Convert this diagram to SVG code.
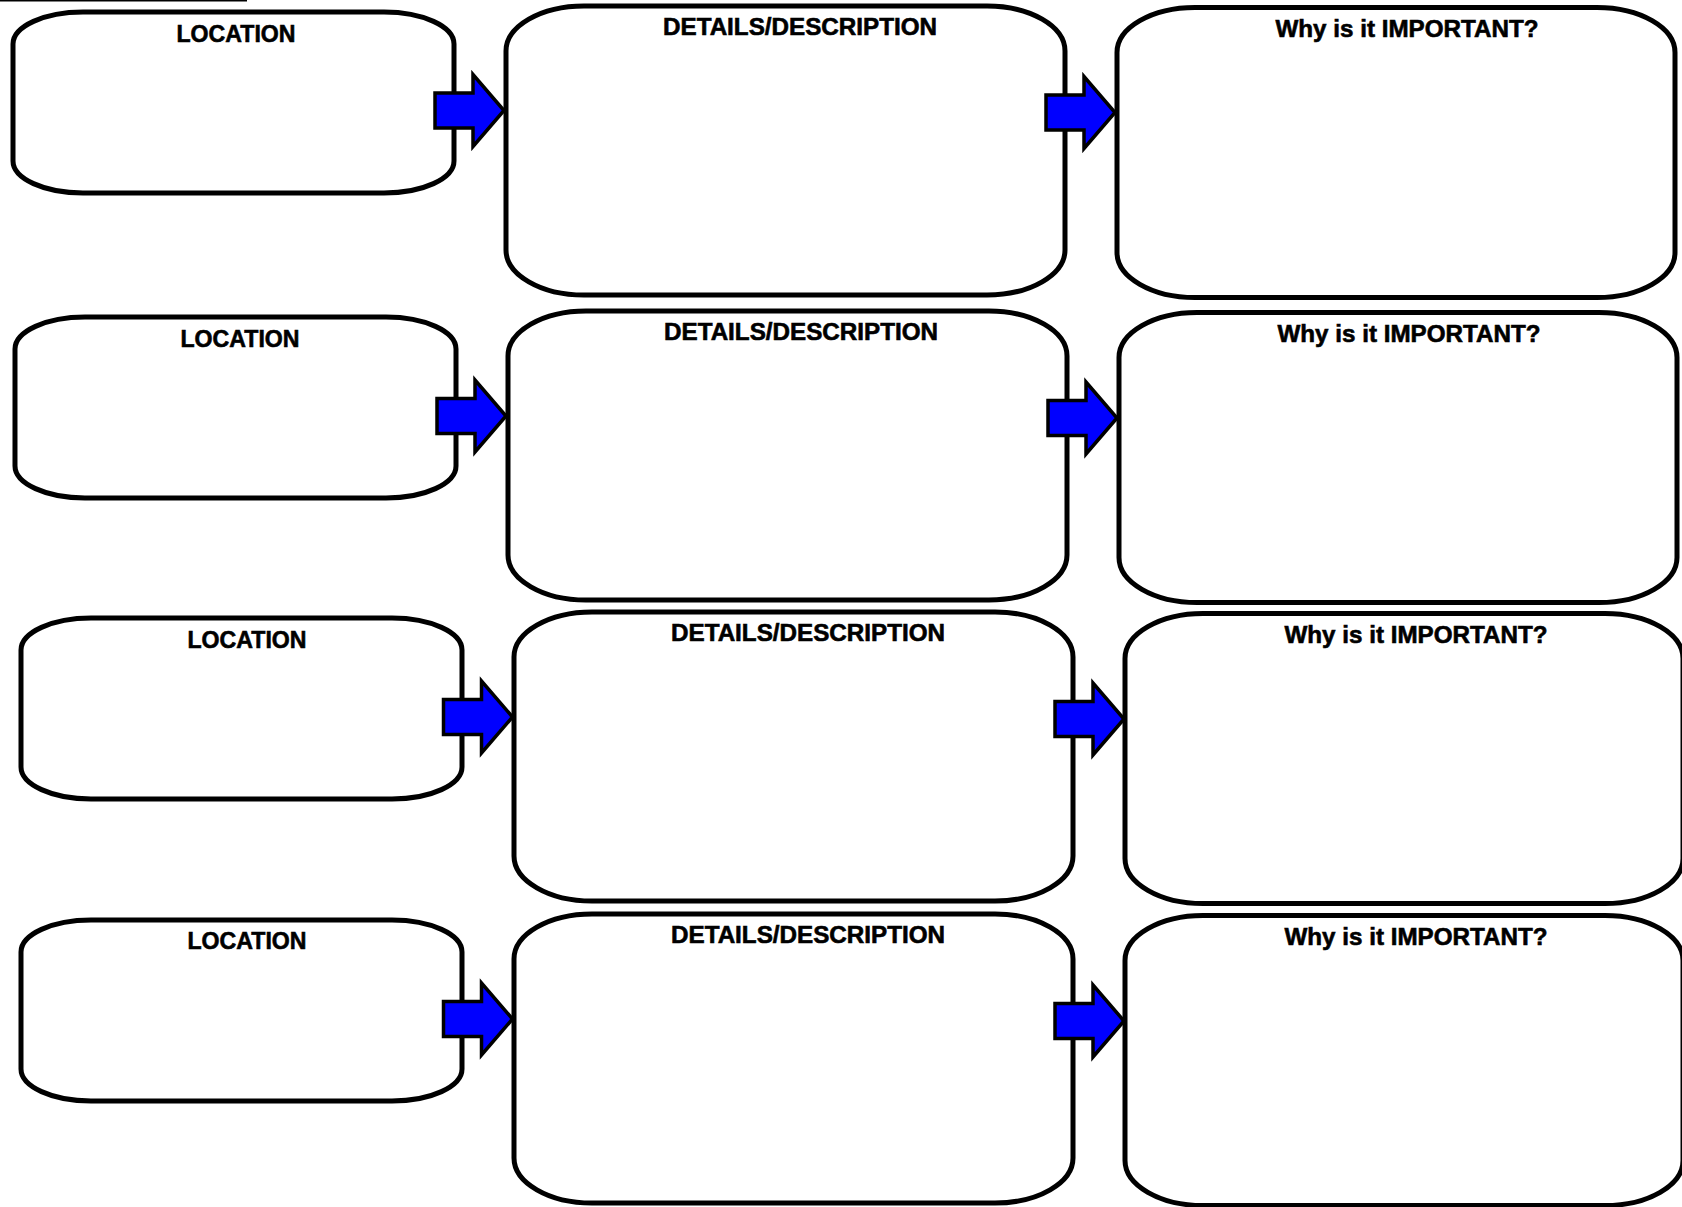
<svg xmlns="http://www.w3.org/2000/svg" xmlns:xlink="http://www.w3.org/1999/xlink" width="1682" height="1207" viewBox="0 0 1682 1207">
<style>
.box{fill:#fff;stroke:#000;stroke-width:5}
.lbl{font-family:"Liberation Sans",Arial,sans-serif;font-weight:bold;font-size:24px;fill:#000;stroke:#000;stroke-width:0.6;text-anchor:middle}
.arr{fill:#0000ff;stroke:#000;stroke-width:3.5;stroke-linejoin:miter}
</style>
<defs>
<path id="arrow" class="arr" d="M0,-17.5 H38 V-36 L69,0 L38,36 V17.5 H0 Z"/>
</defs>
<rect width="1682" height="1207" fill="#fff"/>
<line x1="0" y1="0.8" x2="247" y2="0.8" stroke="#000" stroke-width="1.6"/>

<g id="row1">
<g id="loc1"><rect class="box" x="13" y="12" width="441" height="181" rx="70" ry="32"/><text class="lbl" x="236" y="42" textLength="119" lengthAdjust="spacingAndGlyphs">LOCATION</text></g>
<g id="det1"><rect class="box" x="506" y="6" width="559" height="289" rx="78" ry="45"/><text class="lbl" x="800" y="35" textLength="274" lengthAdjust="spacingAndGlyphs">DETAILS/DESCRIPTION</text></g>
<g id="why1"><rect class="box" x="1117" y="7.5" width="558" height="290" rx="78" ry="45"/><text class="lbl" x="1407" y="37" textLength="263" lengthAdjust="spacingAndGlyphs">Why is it IMPORTANT?</text></g>
</g>

<g id="row2">
<g id="loc2"><rect class="box" x="15" y="317" width="441" height="181" rx="70" ry="32"/><text class="lbl" x="240" y="347" textLength="119" lengthAdjust="spacingAndGlyphs">LOCATION</text></g>
<g id="det2"><rect class="box" x="508" y="311" width="559" height="289" rx="78" ry="45"/><text class="lbl" x="801" y="340" textLength="274" lengthAdjust="spacingAndGlyphs">DETAILS/DESCRIPTION</text></g>
<g id="why2"><rect class="box" x="1119" y="312.5" width="558" height="290" rx="78" ry="45"/><text class="lbl" x="1409" y="342" textLength="263" lengthAdjust="spacingAndGlyphs">Why is it IMPORTANT?</text></g>
</g>

<g id="row3">
<g id="loc3"><rect class="box" x="21" y="618" width="441" height="181" rx="70" ry="32"/><text class="lbl" x="247" y="648" textLength="119" lengthAdjust="spacingAndGlyphs">LOCATION</text></g>
<g id="det3"><rect class="box" x="514" y="612" width="559" height="289" rx="78" ry="45"/><text class="lbl" x="808" y="641" textLength="274" lengthAdjust="spacingAndGlyphs">DETAILS/DESCRIPTION</text></g>
<g id="why3"><rect class="box" x="1125" y="613.5" width="558" height="290" rx="78" ry="45"/><text class="lbl" x="1416" y="643" textLength="263" lengthAdjust="spacingAndGlyphs">Why is it IMPORTANT?</text></g>
</g>

<g id="row4">
<g id="loc4"><rect class="box" x="21" y="920" width="441" height="181" rx="70" ry="32"/><text class="lbl" x="247" y="949" textLength="119" lengthAdjust="spacingAndGlyphs">LOCATION</text></g>
<g id="det4"><rect class="box" x="514" y="914" width="559" height="289" rx="78" ry="45"/><text class="lbl" x="808" y="943" textLength="274" lengthAdjust="spacingAndGlyphs">DETAILS/DESCRIPTION</text></g>
<g id="why4"><rect class="box" x="1125" y="915.5" width="558" height="290" rx="78" ry="45"/><text class="lbl" x="1416" y="945" textLength="263" lengthAdjust="spacingAndGlyphs">Why is it IMPORTANT?</text></g>
</g>

<g id="connectors">
<use xlink:href="#arrow" x="435" y="110.5"/>
<use xlink:href="#arrow" x="1046" y="112.5"/>
<use xlink:href="#arrow" x="437" y="416"/>
<use xlink:href="#arrow" x="1048" y="418"/>
<use xlink:href="#arrow" x="443.5" y="717"/>
<use xlink:href="#arrow" x="1055" y="719"/>
<use xlink:href="#arrow" x="443.5" y="1019"/>
<use xlink:href="#arrow" x="1055" y="1021"/>
</g>
</svg>
